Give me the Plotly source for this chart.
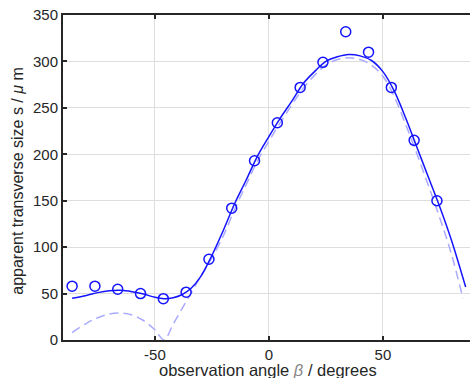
import plotly.graph_objects as go

# measured data points (circles)
obs_angle = [-86.3, -76.3, -66.3, -56.3, -46.3, -36.3, -26.3, -16.3, -6.3, 3.7,
             13.7, 23.7, 33.7, 43.7, 53.7, 63.7, 73.7]
obs_size = [58, 58, 54.6, 50, 44.5, 51.5, 87, 142, 193, 234,
            272, 299, 332, 310, 272, 215, 150]

# fitted model (solid)
fit_angle = [-86.3, -80, -75, -70, -65, -60, -55, -50, -46, -42, -38, -34, -30,
             -26, -20, -15, -10, -5, 0, 5, 10, 15, 20, 25, 30, 35, 40, 45, 50,
             55, 60, 65, 70, 75, 80, 86.3]
fit_size = [45, 48, 51, 53, 53.5, 52, 49.5, 46, 44.5, 45.5, 49, 56, 68,
            86, 118, 147, 172, 198, 219, 239, 257, 276, 289, 300, 305, 307.5, 306, 301, 289,
            268, 239, 207, 175, 143, 108, 57]

# alternative model (dashed)
alt_angle = [-86.3, -80, -75, -70, -65, -60, -55, -50, -46, -42, -38, -34, -30,
             -26, -20, -15, -10, -5, 0, 5, 10, 15, 20, 25, 30, 35, 40, 45, 50,
             55, 60, 65, 70, 75, 80, 85.1]
alt_size = [8, 18, 24, 28, 29, 27, 21, 11, 0, 17, 34, 51, 68,
            84, 112, 141, 167, 193, 214, 234, 253, 271, 285, 296, 302, 304, 302, 296, 284,
            262, 232, 200, 166, 131, 93, 45]

x_ticks = [-50, 0, 50]
x_tick_labels = ["-50", "0", "50"]
y_ticks = [0, 50, 100, 150, 200, 250, 300, 350]

fig = go.Figure()
fig.add_trace(go.Scatter(x=alt_angle, y=alt_size, mode="lines",
                         line=dict(color="rgb(170,170,255)", width=1.5, dash="9px,5px", shape="spline"),
                         showlegend=False))
fig.add_trace(go.Scatter(x=fit_angle, y=fit_size, mode="lines",
                         line=dict(color="rgb(20,20,255)", width=1.5, shape="spline"),
                         showlegend=False))
fig.add_trace(go.Scatter(x=obs_angle, y=obs_size, mode="markers",
                         marker=dict(symbol="circle-open", size=10, color="rgb(20,20,255)",
                                     line=dict(width=1.5, color="rgb(20,20,255)")),
                         showlegend=False))

axis_font = dict(family="Liberation Sans, Arial, sans-serif", size=15, color="#262626")
title_font = dict(family="Liberation Sans, Arial, sans-serif", size=16.5, color="#262626")

fig.update_layout(
    width=470, height=378,
    margin=dict(l=63, r=0, t=15, b=38),
    paper_bgcolor="white", plot_bgcolor="white",
    font=axis_font,
    xaxis=dict(range=[-90.3, 88.2], tickvals=x_ticks, ticktext=x_tick_labels,
               showgrid=True, gridcolor="#dedede", gridwidth=1,
               zeroline=False, showline=True, linecolor="#262626", linewidth=2, mirror="ticks",
               ticks="inside", ticklen=4, tickwidth=1.5, tickcolor="#262626", tickfont=axis_font),
    yaxis=dict(range=[0, 350], tickvals=y_ticks, showgrid=True, gridcolor="#dedede", gridwidth=1,
               zeroline=False, showline=True, linecolor="#262626", linewidth=2,
               ticks="inside", ticklen=4, tickwidth=1.5, tickcolor="#262626", tickfont=axis_font),
    annotations=[
        dict(text="observation angle <i><span style='color:#888'>β</span></i> / degrees",
             xref="paper", yref="paper", x=0.504, y=-0.091, xanchor="center", yanchor="middle",
             showarrow=False, font=title_font),
        dict(text="apparent transverse size s / <i>μ</i> m",
             xref="paper", yref="paper", x=-0.1106, y=0.49, xanchor="center", yanchor="middle",
             textangle=-90, showarrow=False, font=dict(title_font, size=16)),
    ],
)

fig.write_html("out.html", config={"displayModeBar": False},
               post_script="document.body.style.margin='0';document.body.style.overflow='hidden';")
